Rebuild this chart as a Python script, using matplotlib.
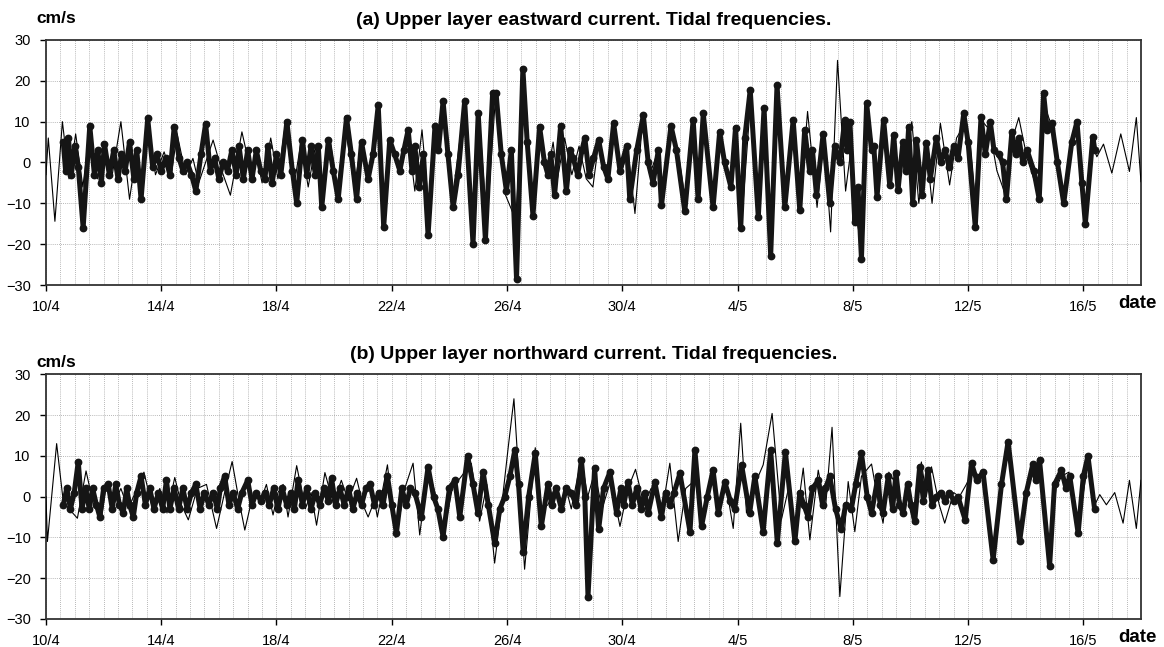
import numpy as np
from matplotlib import pyplot as plt

plt.rcParams['font.family'] = ['Liberation Sans', 'DejaVu Sans']

# x axis = days since 10/4 00:00
date_ticks = [0, 4, 8, 12, 16, 20, 24, 28, 32, 36]
date_labels = ['10/4', '14/4', '18/4', '22/4', '26/4', '30/4', '4/5', '8/5', '12/5', '16/5']
y_ticks = [-30, -20, -10, 0, 10, 20, 30]

# (a) eastward, tidal prediction (thin line)
tide_a = [
    (0.0, -3), (0.08, 6), (0.31, -14.4), (0.57, 10), (0.8, -4), (1.03, 7), (1.28, -6), (1.52, 8),
    (1.78, -4), (2.05, 3), (2.3, -3), (2.6, 10), (2.9, -9), (3.15, 3), (3.35, -6), (3.55, 9),
    (3.8, -3), (4.1, 2.6), (4.35, -3), (4.55, 7), (4.85, -3), (5.1, 1), (5.3, -5), (5.8, 5.5),
    (6.1, -2), (6.4, -8), (6.8, 7.5), (7.1, -2), (7.3, 2), (7.5, -5), (7.8, 6), (8.05, -4),
    (8.3, 9), (8.6, -6), (8.85, 5), (9.1, -6), (9.35, 4), (9.6, -8), (9.85, 6), (10.1, -6),
    (10.4, 8), (10.7, -6), (10.95, 5), (11.2, -4), (11.5, 11), (11.75, -10), (12.0, 5), (12.25, -3),
    (12.55, 8), (12.8, -7), (13.05, 8), (13.3, -12), (13.55, 7), (13.8, 12), (14.1, -9), (14.5, 13),
    (14.8, -16), (15.05, 10), (15.3, -15), (15.6, 16), (15.95, -8), (16.3, -14), (16.55, 15), (16.9, -10),
    (17.15, 7), (17.4, -3), (17.6, 5), (17.75, -4), (18.0, 6), (18.25, -3), (18.5, 4), (18.75, -4),
    (18.98, -6), (19.2, 6), (19.45, -3), (19.7, 8), (19.95, -3), (20.2, 3), (20.44, -12.5), (20.7, 10),
    (20.95, -3), (21.2, 2), (21.4, -9), (21.7, 8), (21.95, 2), (22.2, -10), (22.45, 9), (22.65, -8),
    (22.85, 10), (23.15, -9), (23.4, 6), (23.75, -5), (23.95, 7), (24.15, -14), (24.45, 15), (24.7, -12),
    (24.95, 12), (25.15, -20), (25.4, 17), (25.65, -9), (25.95, 9), (26.16, -11.7), (26.43, 12.5), (26.76, -11),
    (27.0, 6), (27.23, -17), (27.47, 25), (27.75, -7), (27.95, 4), (28.1, -13), (28.3, -20), (28.5, 12),
    (28.75, 2), (28.85, -7), (29.07, 9), (29.3, -5), (29.45, 5), (29.6, -5), (29.8, 4), (30.05, 10),
    (30.29, -10), (30.55, 4), (30.75, -10), (31.04, 9.6), (31.36, -5.5), (31.6, 6), (31.85, 9), (32.08, 4.7),
    (32.3, -13), (32.5, 10), (32.75, 8), (33.0, -2), (33.35, -9), (33.55, 6), (33.76, 11), (34.05, 1),
    (34.28, -4), (34.47, -8), (34.65, 14), (34.95, 8), (35.3, -9), (35.55, 4), (35.8, 9), (36.05, -13),
    (36.3, 4.5), (36.47, 1.4), (36.7, 4.5), (36.99, -2.6), (37.3, 7), (37.6, -2.2), (37.84, 11), (38.0, -4.7),
]

# (a) eastward, measured (dots)
obs_a = [
    (0.60, 5), (0.68, -2), (0.78, 6), (0.88, -3), (1.00, 4), (1.12, -1), (1.29, -16), (1.52, 9),
    (1.68, -3), (1.80, 3), (1.92, -5), (2.03, 4.5), (2.20, -3), (2.35, 3), (2.50, -4), (2.62, 2),
    (2.75, -2), (2.90, 5), (3.05, -4), (3.15, 3), (3.30, -9), (3.53, 10.8), (3.70, -1), (3.85, 2),
    (4.00, -2), (4.15, 1), (4.30, -3), (4.45, 8.8), (4.62, 1), (4.75, -2), (4.90, 0), (5.05, -3),
    (5.20, -7), (5.38, 2), (5.54, 9.5), (5.70, -2), (5.85, 1), (6.00, -4), (6.15, 0), (6.30, -2),
    (6.45, 3), (6.60, -3), (6.70, 4), (6.85, -4), (7.00, 3), (7.15, -4), (7.30, 3), (7.45, -2),
    (7.60, -4), (7.70, 4), (7.85, -5), (8.00, 2), (8.15, -3), (8.36, 10), (8.55, -2), (8.70, -10),
    (8.90, 5.5), (9.05, -3), (9.20, 4), (9.35, -3), (9.45, 4), (9.57, -11), (9.80, 5.5), (9.97, -2),
    (10.14, -9), (10.43, 11), (10.60, 2), (10.78, -9), (10.95, 5), (11.18, -4), (11.35, 2), (11.53, 14),
    (11.72, -15.8), (11.93, 5.5), (12.10, 2), (12.28, -2), (12.42, 3), (12.57, 8), (12.70, -2), (12.80, 4),
    (12.95, -6), (13.10, 2), (13.26, -17.8), (13.50, 9), (13.62, 3), (13.78, 15), (13.95, 2), (14.13, -11),
    (14.30, -3), (14.53, 15), (14.82, -20), (15.00, 12), (15.25, -19), (15.50, 17), (15.62, 17), (15.80, 2),
    (15.98, -7), (16.15, 3), (16.33, -28.5), (16.55, 23), (16.70, 5), (16.90, -13), (17.13, 8.8), (17.30, 0),
    (17.42, -3), (17.52, 2), (17.65, -8), (17.86, 9), (18.06, -7), (18.20, 3), (18.30, 1), (18.45, -3),
    (18.60, 3), (18.70, 6), (18.85, -3), (19.00, 1), (19.18, 5.5), (19.35, -1), (19.50, -4), (19.70, 9.6),
    (19.92, -2), (20.15, 4), (20.26, -9), (20.50, 3), (20.73, 11.6), (20.90, 0), (21.07, -5), (21.25, 3),
    (21.36, -10.5), (21.69, 9), (21.88, 3), (22.17, -12), (22.46, 10.4), (22.63, -9), (22.81, 12), (23.15, -11),
    (23.38, 7.5), (23.55, 0), (23.77, -6), (23.93, 8.5), (24.11, -16), (24.25, 6), (24.44, 17.8), (24.72, -13.4),
    (24.92, 13.3), (25.15, -22.8), (25.37, 19), (25.64, -11), (25.93, 10.4), (26.16, -11.7), (26.33, 8), (26.50, -2),
    (26.60, 3), (26.74, -8), (26.97, 7), (27.20, -10), (27.37, 4), (27.55, 0), (27.72, 10.4), (27.80, 3),
    (27.90, 10), (28.07, -14.6), (28.18, -6), (28.30, -23.6), (28.48, 14.5), (28.65, 3), (28.73, 4), (28.84, -8.4),
    (29.07, 10.4), (29.28, -5.5), (29.42, 6.7), (29.57, -6.7), (29.74, 5), (29.85, -2), (29.94, 8.8), (30.08, -10),
    (30.21, 5.5), (30.40, -8), (30.55, 4.7), (30.69, -4), (30.90, 6), (31.05, 0), (31.20, 3), (31.35, -1),
    (31.50, 4), (31.65, 1), (31.85, 12), (32.00, 5), (32.25, -15.7), (32.45, 11.2), (32.60, 2), (32.77, 10),
    (32.90, 3), (33.06, 2), (33.20, 0), (33.33, -9), (33.52, 7.5), (33.65, 2), (33.76, 6), (33.90, 0),
    (34.05, 3), (34.28, -2), (34.47, -9), (34.62, 17), (34.75, 8), (34.91, 9.6), (35.10, 0), (35.32, -10),
    (35.60, 5), (35.78, 10), (35.95, -5), (36.07, -15), (36.33, 6.3), (36.40, 3),
]

# (b) northward, tidal prediction (thin line)
tide_b = [
    (0.0, 0), (0.05, -11), (0.37, 13), (0.6, -1.2), (0.8, -3), (1.09, -5.3), (1.39, 6.3), (1.65, -2),
    (1.93, -5), (2.1, 3), (2.35, -2), (2.6, 2), (2.85, -3), (3.1, 1), (3.4, 6), (3.7, -3),
    (3.95, 2), (4.2, -4), (4.47, 4.7), (4.7, -2), (4.94, -5.7), (5.25, 2), (5.57, 3), (5.92, -7.8),
    (6.2, 1), (6.46, 8.6), (6.7, -1), (6.9, -8.2), (7.2, 1), (7.45, -1), (7.65, 3), (7.88, -4.5),
    (8.05, 1), (8.23, 3), (8.4, -5), (8.7, 7.6), (9.0, -3), (9.2, 1), (9.39, -7), (9.68, 5.9),
    (9.97, -1.6), (10.25, 4), (10.49, -1), (10.78, 4.5), (11.0, -2), (11.18, -5), (11.4, -1), (11.5, -5),
    (11.85, 7.8), (12.14, -10), (12.45, 2), (12.74, 8.2), (12.97, -9.4), (13.26, 7), (13.5, 1), (13.78, -10),
    (14.1, 2), (14.42, 5), (14.76, 8.2), (15.05, -6), (15.3, 3), (15.57, -16.3), (15.85, 0), (16.04, 12),
    (16.24, 24), (16.61, -17.8), (16.98, 12), (17.2, -3), (17.42, -2), (17.65, 2), (17.9, -3), (18.05, 2),
    (18.23, -3), (18.58, 9.4), (18.8, 0), (19.04, 6), (19.3, -3), (19.6, 4), (19.92, -7.3), (20.2, 2),
    (20.46, 6.7), (20.75, -2), (21.0, 2), (21.25, 0), (21.4, -3), (21.65, 8.2), (21.94, -11), (22.2, 2),
    (22.52, 4), (22.8, -5), (23.1, 5), (23.4, -2), (23.6, 3), (23.85, -7.8), (24.11, 18), (24.31, -4),
    (24.6, 3), (24.89, 7.8), (25.2, 20.4), (25.52, -5.7), (25.8, 3), (26.0, -8), (26.28, 7), (26.51, -10.6),
    (26.8, 6.5), (27.05, -3), (27.28, 17), (27.55, -24.5), (27.84, 3.7), (28.07, -8.6), (28.3, 5), (28.65, 8),
    (28.85, 0), (29.05, -6.5), (29.25, 6), (29.5, 3), (29.75, -3), (29.9, 2), (30.09, -6.5), (30.38, 8.5),
    (30.55, 0), (30.73, 7.3), (31.0, -2), (31.19, -6.5), (31.5, 1), (31.7, 0), (31.94, 3), (32.15, 6),
    (32.5, 5), (32.87, -12), (33.16, 2), (33.39, 11), (33.79, -9), (34.02, 1), (34.3, 7), (34.55, 6),
    (34.83, -14), (35.05, 2), (35.24, 5), (35.5, 6), (35.82, -7), (36.16, 8), (36.4, -2), (36.57, 0.5),
    (36.8, -2), (37.09, 1), (37.38, -6.5), (37.6, 4), (37.84, -7.8), (38.0, 4),
]

# (b) northward, measured (dots)
obs_b = [
    (0.60, -2), (0.72, 2), (0.85, -3), (0.98, 1), (1.12, 8.6), (1.25, -3), (1.38, 2), (1.50, -3),
    (1.62, 2), (1.75, -2), (1.87, -5), (2.00, 2), (2.16, 3), (2.30, -3), (2.42, 3), (2.55, -2),
    (2.68, -4), (2.80, 2), (2.90, -2), (3.03, -5), (3.15, 1), (3.30, 5), (3.45, -2), (3.60, 2),
    (3.75, -3), (3.90, 1), (4.05, -3), (4.18, 4), (4.30, -3), (4.45, 2), (4.60, -3), (4.75, 2),
    (4.90, -3), (5.05, 1), (5.20, 3), (5.35, -3), (5.50, 1), (5.65, -2), (5.80, 1), (5.95, -3),
    (6.05, 2), (6.20, 5), (6.35, -2), (6.50, 1), (6.65, -3), (6.80, 1), (7.00, 4), (7.15, -2),
    (7.30, 1), (7.45, -1), (7.60, 1), (7.75, -2), (7.90, 2), (8.05, -3), (8.20, 2), (8.35, -2),
    (8.50, 1), (8.62, -3), (8.75, 4), (8.90, -2), (9.05, 2), (9.20, -3), (9.35, 1), (9.50, -2),
    (9.65, 2), (9.80, -1), (9.91, 4.5), (10.05, -2), (10.20, 2), (10.35, -2), (10.50, 2), (10.65, -3),
    (10.80, 1), (10.95, -2), (11.10, 2), (11.25, 3), (11.40, -2), (11.55, 1), (11.70, -2), (11.85, 5),
    (12.00, -2), (12.16, -9), (12.35, 2), (12.50, -2), (12.65, 2), (12.80, 1), (13.03, -5), (13.26, 7.3),
    (13.45, 0), (13.60, -3), (13.78, -9.8), (14.00, 2), (14.19, 4), (14.36, -5), (14.63, 10), (14.82, 3),
    (14.99, -4), (15.17, 6), (15.35, -2), (15.57, -11.4), (15.75, -3), (15.92, 0), (16.10, 5), (16.27, 11.4),
    (16.40, 3), (16.56, -13.5), (16.75, 0), (16.98, 10.6), (17.19, -7.3), (17.42, 3), (17.55, -2), (17.70, 2),
    (17.89, -3), (18.05, 2), (18.23, 1), (18.40, -2), (18.58, 9), (18.70, 0), (18.81, -24.5), (19.04, 7),
    (19.18, -8), (19.35, 2), (19.57, 6), (19.80, -4), (19.95, 2), (20.05, -2), (20.20, 3.5), (20.35, -2),
    (20.50, 2), (20.65, -3), (20.78, 1), (20.90, -4), (21.13, 3.5), (21.36, -5), (21.50, 1), (21.65, -2),
    (21.80, 1), (22.00, 5.7), (22.35, -8.6), (22.52, 11.4), (22.75, -7.3), (22.95, 0), (23.15, 6.5), (23.33, -4),
    (23.56, 3.5), (23.75, -1), (23.90, -3), (24.14, 7.8), (24.42, -4), (24.60, 5), (24.89, -8.6), (25.15, 11.4),
    (25.38, -11.4), (25.66, 11), (25.99, -11), (26.16, 1), (26.30, -2), (26.45, -5), (26.60, 2), (26.80, 4),
    (26.95, -2), (27.05, 2), (27.20, 5), (27.40, -3), (27.60, -8), (27.75, -2), (27.95, -3), (28.10, 3),
    (28.30, 10.6), (28.50, 0), (28.65, -4), (28.88, 5), (28.95, -2), (29.05, -4), (29.23, 5), (29.38, -3),
    (29.50, 5.7), (29.62, -2), (29.75, -4), (29.90, 3), (30.02, -2), (30.15, -6), (30.32, 7.3), (30.45, -1),
    (30.61, 6.5), (30.75, -2), (30.90, 0), (31.05, 1), (31.20, -1), (31.35, 1), (31.50, -1), (31.65, 0),
    (31.90, -5.7), (32.12, 8.2), (32.30, 4), (32.52, 6), (32.87, -15.5), (33.16, 3), (33.39, 13.5), (33.79, -11),
    (34.02, 1), (34.25, 8), (34.35, 4), (34.48, 9), (34.83, -17), (35.00, 3), (35.24, 6.5), (35.40, 2),
    (35.53, 5), (35.82, -9), (36.00, 5), (36.16, 10), (36.39, -3),
]


def draw_panel(ax, tide, obs, title):
    tt, tv = np.array(tide).T
    ot, ov = np.array(obs).T
    ax.plot(tt, tv, color='black', linewidth=0.8, zorder=3)
    ax.plot(ot, ov, color='#151515', linewidth=3.6, marker='o', markersize=4.6,
            solid_joinstyle='round', solid_capstyle='round', zorder=4)

    ax.set_xlim(0, 38)
    ax.set_ylim(-30, 30)
    ax.set_xticks(date_ticks)
    ax.set_xticklabels(date_labels)
    ax.set_xticks(np.arange(0, 38.01, 0.5), minor=True)
    ax.set_yticks(y_ticks)
    ax.tick_params(axis='both', which='major', labelsize=10.5, length=4, width=1, pad=7)
    ax.tick_params(axis='x', which='minor', length=0)
    ax.grid(True, which='both', axis='x', color='#a0a0a0', linestyle=(0, (1, 1.5)), linewidth=0.6)
    ax.grid(True, which='major', axis='y', color='#a0a0a0', linestyle=(0, (1, 1.5)), linewidth=0.6)
    ax.set_axisbelow(True)
    for s in ax.spines.values():
        s.set_linewidth(1.3)
        s.set_color('#333333')
    ax.set_title(title, fontsize=14, fontweight='bold', pad=11)


fig = plt.figure(figsize=(11.64, 6.47), dpi=100)
ax1 = fig.add_axes([0.0395, 0.5595, 0.9407, 0.3787])
ax2 = fig.add_axes([0.0395, 0.0433, 0.9407, 0.3782])

draw_panel(ax1, tide_a, obs_a, '(a) Upper layer eastward current. Tidal frequencies.')
draw_panel(ax2, tide_b, obs_b, '(b) Upper layer northward current. Tidal frequencies.')

fig.text(0.031, 0.972, 'cm/s', fontsize=12.5, fontweight='bold', va='center', ha='left')
fig.text(0.031, 0.44, 'cm/s', fontsize=12.5, fontweight='bold', va='center', ha='left')
fig.text(0.961, 0.531, 'date', fontsize=13.5, fontweight='bold', va='center', ha='left')
fig.text(0.961, 0.015, 'date', fontsize=13.5, fontweight='bold', va='center', ha='left')

plt.savefig('out.png', dpi=100)
